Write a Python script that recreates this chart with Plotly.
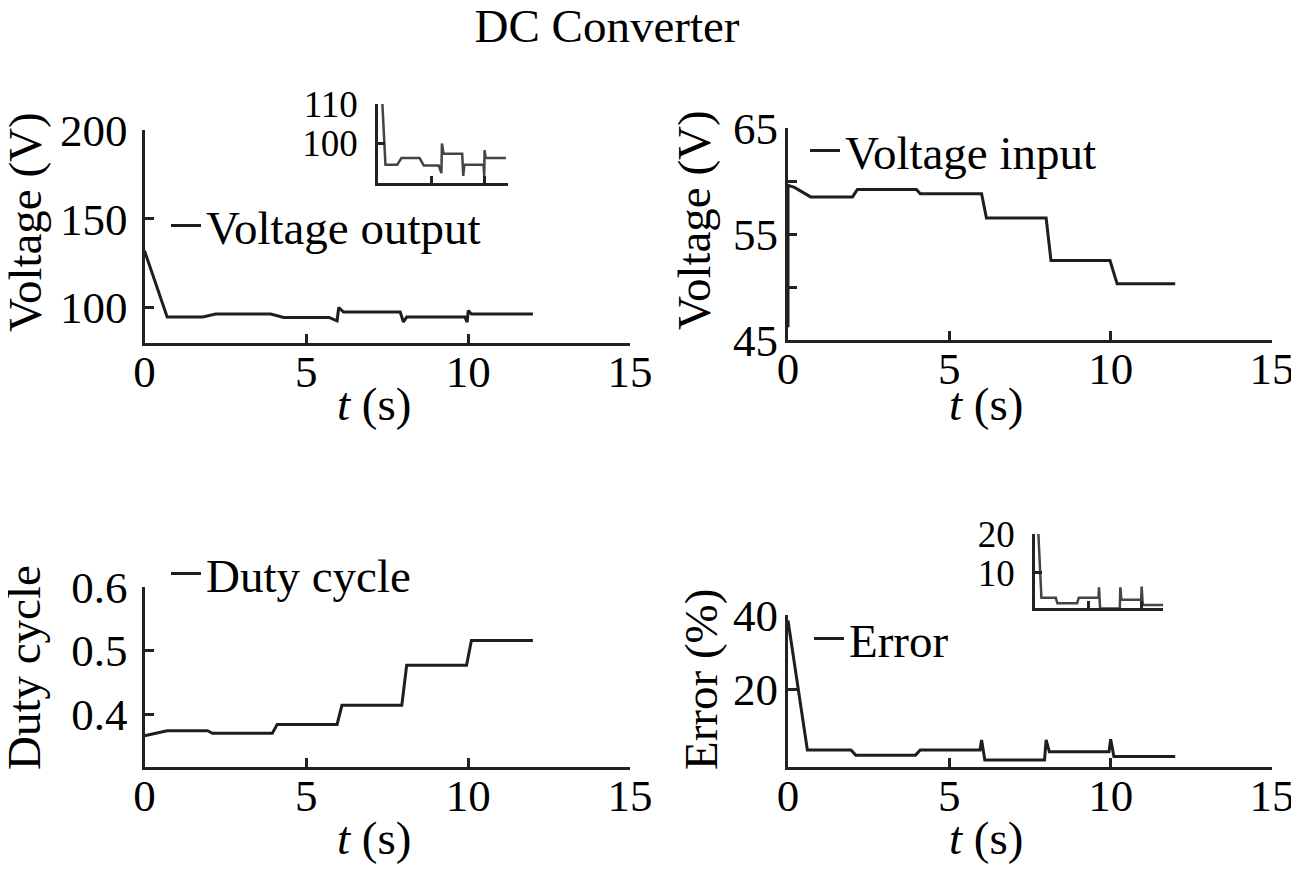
import plotly.graph_objects as go

# ---- data ----
t_out = [0, 0.7, 1.8, 2.2, 3.9, 4.3, 5.7, 5.95, 6.0, 6.15, 7.9, 8.0, 8.1, 9.9, 9.97, 10.0, 10.1, 12.0]
v_out = [132, 94.6, 94.6, 96.3, 96.3, 94.4, 94.4, 92.5, 100, 97.4, 97.4, 91.8, 94.6, 94.6, 91.8, 98.3, 96.3, 96.3]

t_in = [0, 0, 0.2, 0.7, 2.0, 2.15, 3.98, 4.1, 6.0, 6.15, 8.0, 8.15, 9.98, 10.2, 12.0]
v_in = [46.2, 59.6, 59.4, 58.5, 58.5, 59.2, 59.2, 58.8, 58.8, 56.5, 56.5, 52.5, 52.5, 50.3, 50.3]

t_duty = [0, 0.7, 1.95, 2.1, 3.95, 4.1, 5.95, 6.1, 7.95, 8.1, 9.95, 10.1, 12.0]
duty = [0.366, 0.374, 0.374, 0.370, 0.370, 0.384, 0.384, 0.414, 0.414, 0.477, 0.477, 0.516, 0.516]

t_err = [0, 0.6, 1.95, 2.1, 3.95, 4.1, 5.95, 6.0, 6.1, 7.95, 8.0, 8.1, 9.95, 10.0, 10.1, 12.0]
err = [38.5, 3.6, 3.6, 2.2, 2.2, 3.6, 3.6, 6.3, 0.9, 0.9, 6.3, 3.1, 3.1, 6.5, 1.8, 1.8]

FONT = "Liberation Serif"
OFF = 8  # page body margin
W, H = 1299 - OFF, 884 - OFF
LINE = "#1e1e1e"


def px_x(a, b):
    return [(a - OFF) / W, (b - OFF) / W]


def px_y(top, bottom):
    return [1 - (bottom - OFF) / H, 1 - (top - OFF) / H]


fig = go.Figure()

fig.add_trace(go.Scatter(x=t_out, y=v_out, mode="lines", name="Voltage output",
                         line=dict(color=LINE, width=3), xaxis="x", yaxis="y", legend="legend"))
fig.add_trace(go.Scatter(x=t_in, y=v_in, mode="lines", name="Voltage input",
                         line=dict(color=LINE, width=3), xaxis="x2", yaxis="y2", legend="legend2"))
fig.add_trace(go.Scatter(x=t_duty, y=duty, mode="lines", name="Duty cycle",
                         line=dict(color=LINE, width=3), xaxis="x3", yaxis="y3", legend="legend3"))
fig.add_trace(go.Scatter(x=t_err, y=err, mode="lines", name="Error",
                         line=dict(color=LINE, width=3), xaxis="x4", yaxis="y4", legend="legend4"))
# insets
fig.add_trace(go.Scatter(x=t_out, y=v_out, mode="lines", showlegend=False,
                         line=dict(color="#444", width=2.5), xaxis="x5", yaxis="y5"))
fig.add_trace(go.Scatter(x=t_err, y=err, mode="lines", showlegend=False,
                         line=dict(color="#444", width=2.5), xaxis="x6", yaxis="y6"))

tickfont = dict(family=FONT, size=45, color="black")
titlefont = dict(family=FONT, size=47, color="black")
base = dict(showline=True, linecolor="#222", linewidth=3, ticks="inside", ticklen=9,
            tickwidth=2.5, tickcolor="#222", showgrid=False, zeroline=False,
            tickfont=tickfont, automargin=False)


def xax(dom, anchor):
    return dict(base, domain=dom, anchor=anchor, range=[0, 15], tickvals=[0, 5, 10, 15],
                ticklabelstandoff=-13)


def yax(dom, anchor, rng, tv, lab_off):
    return dict(base, domain=dom, anchor=anchor, range=rng, tickvals=tv, ticklabelstandoff=lab_off)


x_left = px_x(144.5, 630)
x_right = px_x(788, 1272)
y_top1 = px_y(130, 343)
y_top2 = px_y(128, 340)
y_bot3 = px_y(587, 767)
y_bot4 = px_y(615, 767)

inset = dict(base, tickfont=dict(family=FONT, size=37, color="black"), ticklen=7, linewidth=2.5,
             ticklabelstandoff=10)

fig.update_layout(
    width=W, height=H,
    paper_bgcolor="white", plot_bgcolor="white",
    margin=dict(l=0, r=0, t=0, b=0),
    font=dict(family=FONT, size=45, color="black"),
    title=dict(text="DC Converter", x=(607 - OFF) / W, xanchor="center",
               y=1 - 18 / H, yanchor="middle", font=titlefont),
    xaxis=xax(x_left, "y"),
    yaxis=yax(y_top1, "x", [80, 200], [100, 150, 200], 5),
    xaxis2=xax(x_right, "y2"),
    yaxis2=dict(yax(y_top2, "x2", [45, 65], [45, 55, 65], -2),
                minor=dict(ticks="inside", ticklen=9, tickwidth=2.5, tickcolor="#222", tickvals=[50, 60])),
    xaxis3=xax(x_left, "y3"),
    yaxis3=yax(y_bot3, "x3", [0.317, 0.6], [0.4, 0.5, 0.6], 5),
    xaxis4=xax(x_right, "y4"),
    yaxis4=yax(y_bot4, "x4", [-1, 40], [20, 40], -2),
    xaxis5=dict(inset, domain=px_x(378, 508), anchor="y5", range=[0, 12.2], tickvals=[5, 10, 12.2],
                showticklabels=False),
    yaxis5=dict(inset, domain=px_y(104, 183), anchor="x5", range=[90, 110], tickvals=[100, 110]),
    xaxis6=dict(inset, domain=px_x(1035, 1163), anchor="y6", range=[0, 12], tickvals=[5, 10, 12],
                showticklabels=False),
    yaxis6=dict(inset, domain=px_y(534, 608), anchor="x6", range=[1, 20], tickvals=[10, 20]),
)

# axis titles, placed where the reference has them
axis_titles = [
    ("Voltage (V)", 25, 222, -90),
    ("Voltage (V)", 694, 220, -90),
    ("Duty cycle", 24, 668, -90),
    ("Error (%)", 701, 680, -90),
    ("<i>t</i> (s)", 374, 404, 0),
    ("<i>t</i> (s)", 986, 404, 0),
    ("<i>t</i> (s)", 374, 838, 0),
    ("<i>t</i> (s)", 986, 838, 0),
]
for text, px, py, ang in axis_titles:
    fig.add_annotation(text=text, x=(px - OFF) / W, y=1 - (py - OFF) / H, xref="paper", yref="paper",
                       xanchor="center", yanchor="middle", textangle=ang, showarrow=False,
                       font=titlefont)

leg = dict(bgcolor="rgba(0,0,0,0)", borderwidth=0, xanchor="left", yanchor="middle",
           font=titlefont, itemwidth=30, tracegroupgap=0)
fig.update_layout(
    legend=dict(leg, x=(166 - OFF) / W, y=1 - (226 - OFF) / H),
    legend2=dict(leg, x=(805 - OFF) / W, y=1 - (151 - OFF) / H),
    legend3=dict(leg, x=(166 - OFF) / W, y=1 - (574 - OFF) / H),
    legend4=dict(leg, x=(809 - OFF) / W, y=1 - (639 - OFF) / H),
)

fig.write_html("out.html")
